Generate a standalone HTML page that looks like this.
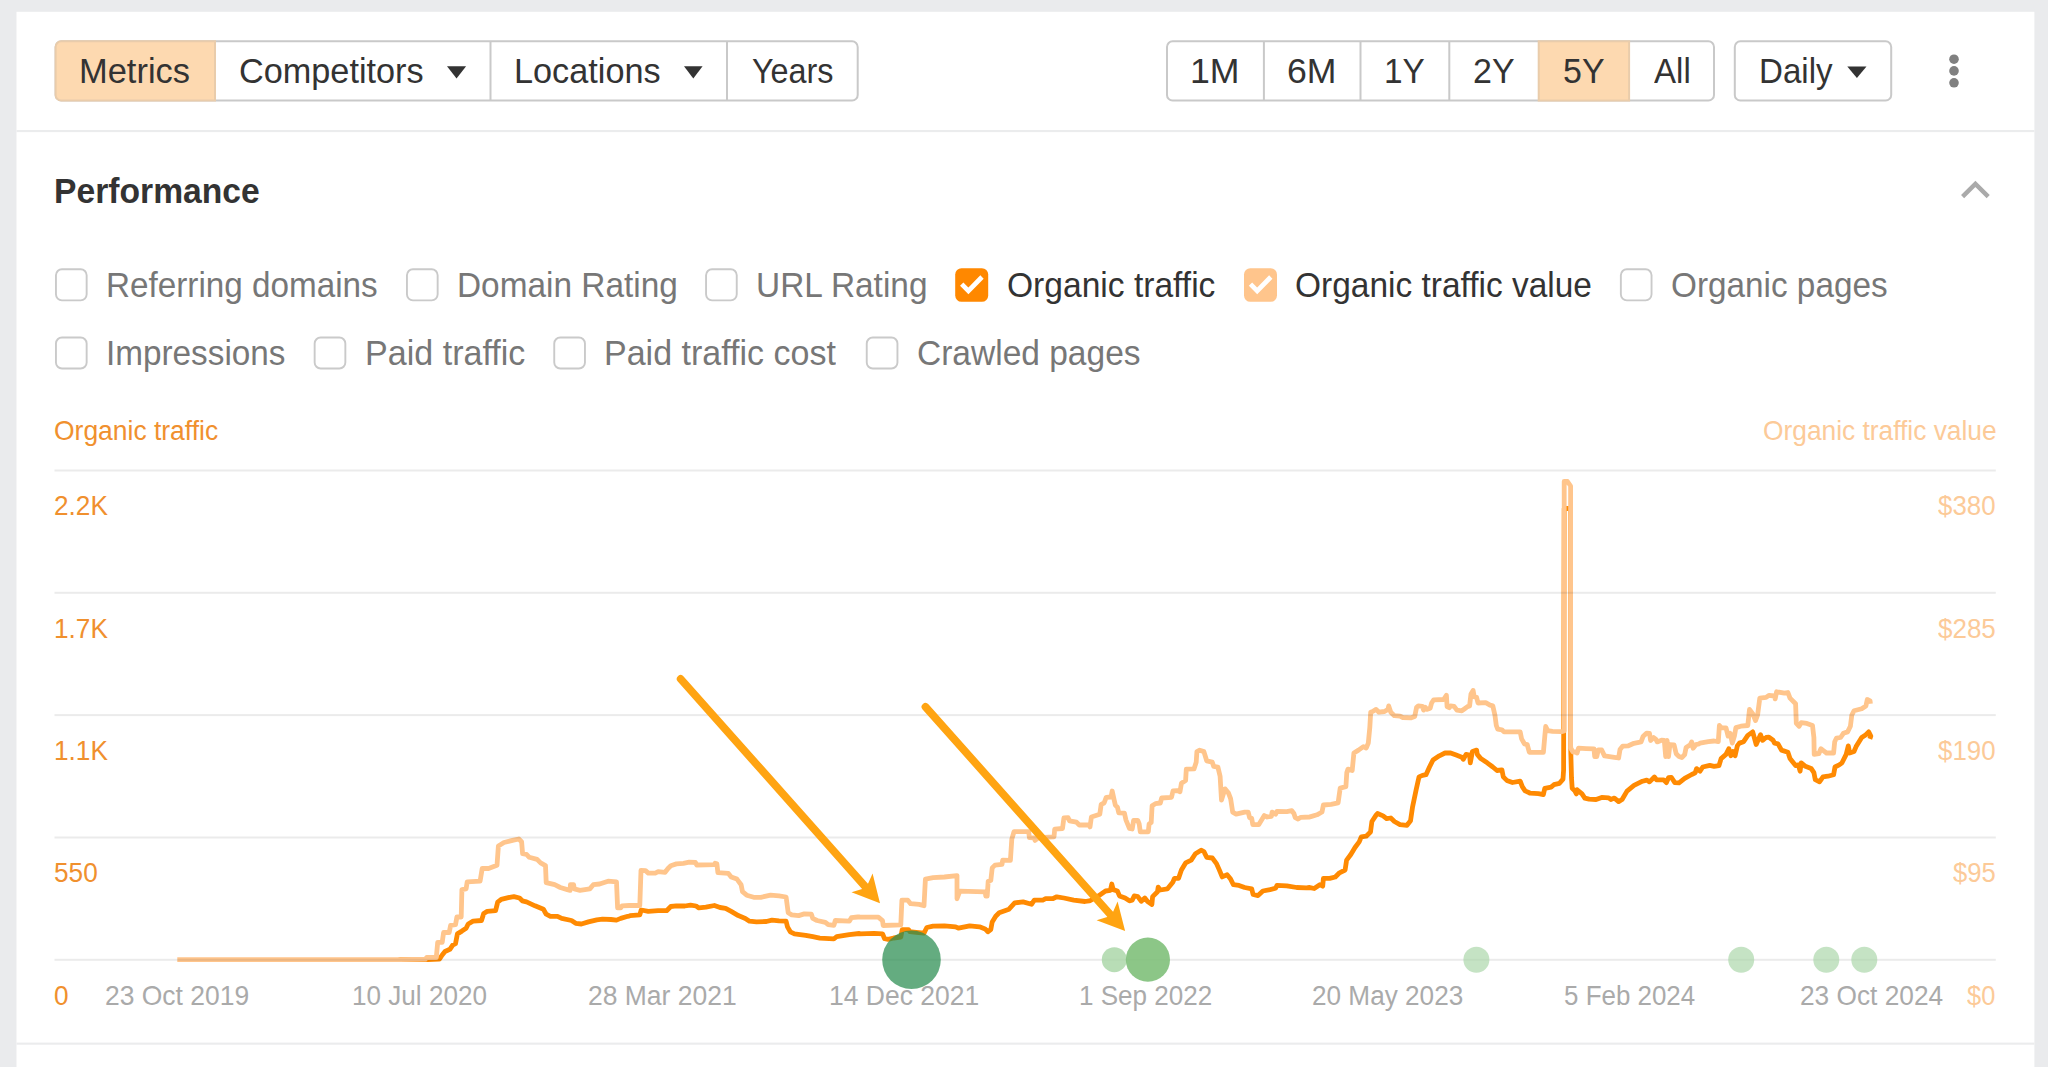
<!DOCTYPE html>
<html lang="en"><head><meta charset="utf-8"><title>Performance</title>
<style>
html,body{margin:0;padding:0;}
body{width:2048px;height:1067px;overflow:hidden;background:#eaebed;position:relative;font-family:"Liberation Sans", sans-serif;}
.t{position:absolute;white-space:nowrap;line-height:1;transform-origin:0 84.65%;}
</style></head>
<body>
<svg width="2048" height="1067" viewBox="0 0 2048 1067" style="position:absolute;left:0;top:0"><rect x="16.5" y="11.8" width="2017.9" height="1070" fill="#fff"/><rect x="16.5" y="130.0" width="2017.9" height="2.1" fill="#ebeced"/><rect x="16.5" y="1042.6" width="2017.9" height="2.1" fill="#ebeced"/><path d="M415,959.6 L400,959.6 L428.1,959.6 L439.4,959.2 L442.2,955 L445,951.5 L449.9,949.3 L452.7,945.1 L455.5,943.7 L457.4,933.9 L461.9,931.1 L466.1,928.3 L468.2,924 L473.1,921.2 L481.5,920.5 L483.7,913.5 L487.2,911.4 L495.6,910.7 L497.7,902.2 L501.2,899.4 L508.3,897.6 L513.9,896.6 L519.5,898 L522.3,900.8 L526.5,901.8 L535,905.8 L543.4,909.3 L546.2,914.2 L550.4,916.3 L557.5,916.3 L561.7,918.4 L571.5,920.5 L575.7,923.3 L581.4,924 L588.4,921.9 L596.8,919.8 L602.5,919.1 L610.9,919.5 L616.5,920.1 L620.7,918.4 L627.8,916.3 L629.2,916.2 L630,915.6 L639.8,914.9 L641.2,910 L648.3,911.4 L658.1,910.7 L666.6,910.7 L670.8,906.5 L676.4,905.8 L684.8,906 L690.5,905.1 L696.1,906 L698.9,907.9 L705.9,907.2 L714.4,905.5 L720,907.5 L725.6,908.3 L731.2,911.4 L738.3,915.6 L745.3,918.4 L749.5,921.2 L756.5,921.9 L766.4,921.5 L772,920.1 L779,920.9 L786.1,921.2 L787.5,926.9 L790.3,931.8 L794.5,933.9 L805.7,935.3 L812.8,936.7 L819.8,938.1 L833.9,938.8 L836.7,936.7 L849.3,934.6 L859.2,933.5 L860,933.8 L874.1,933.4 L882.5,933.8 L884.6,938.7 L888.1,939.4 L893.7,938 L900.8,937 L902.2,929.6 L908.5,929.6 L909.9,931.7 L916.2,932.4 L924,933.1 L926.8,927.5 L933.1,926.1 L944.4,925.8 L955.6,926.8 L958.4,928.2 L969.7,925.8 L979.5,926.8 L985.1,928.9 L987.9,931.7 L990.8,929.6 L992.2,921.9 L995.7,916.2 L999.2,912.7 L1009,909.2 L1014.7,902.9 L1023.1,901.9 L1031.5,904.3 L1034.3,900.1 L1042.8,900.1 L1045.6,898.7 L1052.6,898.7 L1056.8,896.8 L1063.9,898 L1073.7,900.1 L1085,901.5 L1089.2,900.8 L1090,900.8 L1098.4,895.9 L1105.5,891 L1110.4,890.3 L1111.8,884 L1113.2,889.6 L1117.4,891 L1119.5,895.9 L1125.1,898 L1129.4,900.8 L1132.2,900.1 L1134.3,895.9 L1137.8,896.6 L1141.3,901.3 L1144.8,898 L1147.6,901.5 L1151.9,904.4 L1152.6,896.6 L1157.5,891.7 L1158.2,887.2 L1160.3,890 L1167.3,888.9 L1173,881.9 L1174.4,878.3 L1178.6,878.3 L1181.4,869.9 L1185.6,862.9 L1191.2,860.1 L1195.4,853.7 L1201.1,850.2 L1203.9,851.6 L1206.7,857.3 L1212.3,858 L1216.5,863.6 L1219.3,869.9 L1222.2,876.9 L1227.1,874.8 L1230.6,879.1 L1233.4,884.7 L1239,885.4 L1244.7,887.5 L1251.7,888.9 L1253.1,894.5 L1258,895.6 L1262.9,891 L1270,889.6 L1275.6,888.2 L1277,885.4 L1286.8,885.8 L1296.7,887.5 L1306.5,887.8 L1309.3,887.5 L1310,887.6 L1314.2,888.5 L1319.8,884.7 L1322.7,886.2 L1323.4,878.4 L1329.7,878.4 L1335.3,877 L1339.5,872.8 L1345.1,870 L1346.6,860.1 L1350.8,854.5 L1355,847.5 L1359.2,841.9 L1361.3,836.9 L1366.2,836.2 L1370.5,832 L1371.9,821.5 L1376.1,815.1 L1377.5,813.5 L1383.1,815.9 L1386.6,818.7 L1390.8,818 L1394.4,821.5 L1400,824.7 L1407,825.3 L1410.5,820.8 L1412.6,806.7 L1416.2,789.5 L1419,776.9 L1422.5,775.4 L1426,774.7 L1429.5,767 L1433,760 L1439.3,755.8 L1445,753 L1450.6,753 L1456.2,755.1 L1461.8,757.2 L1463.3,759.3 L1466.1,754.4 L1469.6,755.1 L1470.3,762.8 L1472.4,751.5 L1474.5,750.8 L1476.6,750.1 L1477.3,754.4 L1480.8,758.6 L1487.2,762.8 L1492.8,767 L1497,770.5 L1501.9,769.8 L1503.3,776.9 L1506.8,780.4 L1512.5,782.5 L1520.2,781.1 L1522.3,786.7 L1525.1,790.9 L1529.3,792.7 L1530,793.2 L1538.4,793.6 L1543.4,794.6 L1544.8,788.3 L1551.1,787.1 L1553.9,784.7 L1559.5,783.3 L1563,779.1 L1563.6,770 L1564.2,508.5 L1570.6,508.5 L1570.6,745 L1571.5,778 L1572.2,788.3 L1575,791.1 L1576.4,793.9 L1577.1,789.7 L1582,793.9 L1584.8,798.1 L1589.1,799.2 L1596.1,799.5 L1601.7,797.4 L1608.7,797.8 L1610.8,799.5 L1614.4,798.1 L1618.6,801.6 L1622.1,799.5 L1627,791.1 L1634,785.4 L1642.5,781.2 L1646.7,780.1 L1649.5,781.9 L1654.4,777 L1656.5,779.8 L1663.6,779.8 L1666.4,782.6 L1668.5,777.7 L1671.3,777.3 L1674.8,782.6 L1679,782.9 L1684.7,778.4 L1691.7,774.5 L1695.2,772.8 L1696.6,768.6 L1700,771.2 L1702.8,767 L1709.8,765.3 L1714.1,766.3 L1719,765.6 L1721.1,758.6 L1726,754.4 L1728.8,748.7 L1730.9,755.8 L1733,751.5 L1735.1,755.8 L1737.3,745.9 L1739.4,743.1 L1743.6,741.7 L1747.8,735.4 L1752.7,731.9 L1756.2,744.5 L1760.5,734.7 L1762.6,740.3 L1766.1,737.5 L1768.9,737.2 L1773.1,740.3 L1774.5,743.1 L1778,743.8 L1781.5,750.1 L1787.9,752.2 L1790,758.6 L1795.6,765.6 L1798.4,764.9 L1800.1,771.2 L1801.2,762.8 L1805.4,766.3 L1811.1,768.4 L1813.9,772.6 L1815.3,779.7 L1819.5,781.8 L1823,776.9 L1827.9,776.2 L1833.6,774.7 L1835,767 L1839.2,764.9 L1842,762.8 L1846.2,754.4 L1848.3,745.9 L1849.7,753 L1854,751.5 L1856.1,746.6 L1861.7,737.5 L1865.9,734.7 L1868.7,731.9 L1870.8,736.1 L1869.8,738.9" fill="none" stroke="#ff8a02" stroke-width="4.8" stroke-linejoin="round" stroke-linecap="butt"/><path d="M177.3,959.6 L400,959.6 L425.3,959.2 L426.7,957.5 L436.3,957.5 L437.7,942.3 L442.2,942.3 L443.6,932.5 L449.2,932.5 L450.6,925.4 L455.5,924.7 L456.9,917 L461.2,917 L461.9,889.6 L466.1,888.9 L467.2,881.9 L480.1,881.2 L482.2,868.5 L488.6,868.5 L497,865.3 L498.4,846 L504,842.5 L512.5,840.4 L518.8,839 L521.6,841.8 L522.6,853.7 L526.5,854.4 L529.3,857.3 L537.1,859.4 L540.6,862.9 L545.5,865.7 L546.2,882.6 L554.7,884.7 L560.3,887.5 L567.3,889.6 L570.1,890.3 L570.4,884.7 L573.6,884.7 L574.3,888.9 L580,890.3 L589.8,888.9 L593.3,884.7 L599.6,884 L608.1,881.2 L616.5,881.9 L617.6,907.9 L620.7,907.9 L622.1,905.8 L629.2,905.5 L630,905.5 L639.8,905.5 L641,870.3 L645.5,870.6 L648.3,873.1 L655.3,873.1 L658.1,871.7 L665.1,872.3 L668,868.5 L670.8,865.7 L676.4,863.9 L683.4,863.3 L689.1,862.2 L695.4,862.5 L696.8,865 L714.4,864.7 L715.1,863.3 L716.9,863.9 L717.9,872.7 L728.4,873.4 L731.2,876.9 L736.9,879.1 L741.1,884.7 L742.5,891.7 L746.7,895.2 L753.7,897.3 L760.8,897.3 L770.6,895.2 L779,895.9 L786.1,897 L788.2,912.8 L791.7,914.9 L798.7,915.6 L804.3,913.9 L811.4,914.2 L812.8,918.4 L817,920.5 L825.4,922.4 L828.2,924.7 L833.9,925.4 L835.3,920.5 L849.3,921.2 L851.4,917.7 L857.8,917 L859.2,917 L860,917.1 L878.3,917.1 L882.5,920.6 L883.2,925.5 L900.8,924.8 L901.9,900.2 L907.8,900.2 L910.6,903.7 L919.1,904.4 L924,905.8 L925.4,879.1 L933.1,877.7 L944.4,877 L957,875.6 L957,898.8 L959.8,891.1 L985.1,891.8 L985.8,896 L987.2,896 L988.2,881.2 L990.8,880.5 L992.2,867.9 L995,865.1 L1002,864.4 L1002.7,860.1 L1010.4,860.4 L1011.8,839.1 L1014,831.7 L1028.7,831.7 L1029.4,837.6 L1034.3,837.9 L1035,840.5 L1038.6,837.6 L1054,836.9 L1054.7,829.2 L1062.5,828.5 L1063.9,818 L1068.1,817.7 L1069.5,820.8 L1076.5,822.2 L1079.3,825 L1089.2,825 L1090,826.9 L1091.4,817 L1099.8,814.2 L1101.2,804.4 L1104.1,803 L1106.2,797.3 L1111.1,797 L1112.2,791 L1113.9,798.7 L1115.3,805.1 L1117.4,807.2 L1118.8,812.8 L1124.4,813.1 L1125.9,819.8 L1129.4,828.3 L1132.2,829 L1133.6,820.5 L1137.8,820.5 L1139.2,824 L1140.3,831.8 L1148.3,831.8 L1149.1,824 L1151.2,822.6 L1152.1,805.8 L1155.4,803.7 L1160.3,803 L1161.7,798 L1171.5,797.3 L1173,791 L1177.2,790.6 L1180,791.7 L1181.4,783.3 L1185.6,780.5 L1186.3,769.2 L1194,768.9 L1196.2,762.2 L1196.9,751.6 L1199.7,750.2 L1203.9,751.6 L1206.7,760.8 L1212.3,762.2 L1213.7,766.4 L1217.9,767.1 L1220.1,776.2 L1221.5,800.1 L1225,788.9 L1228.5,793.1 L1230.6,798.7 L1232.7,812.1 L1236.2,814.2 L1244.7,812.1 L1248.2,812.1 L1249.6,817.7 L1251.7,818.4 L1252.8,824.7 L1258.7,824.7 L1264.3,815.6 L1267.2,817 L1271.4,816.3 L1272.1,812.1 L1275.6,814.2 L1277,811.4 L1286.8,811.7 L1291.8,810.7 L1293.9,813.5 L1295.3,817.7 L1298.1,819.1 L1300.9,817.3 L1309.3,817 L1310,816.9 L1317,814.8 L1322,812 L1323.4,805 L1331.1,804.3 L1338.1,802.9 L1340.2,788.1 L1345.9,786.7 L1346.8,772.6 L1348,769.1 L1352.2,770.5 L1353.9,753 L1358.5,750.1 L1363.4,746.6 L1366.2,748 L1368.3,743.1 L1369.8,727.6 L1370.7,712.2 L1372.6,711.5 L1376.1,709.4 L1378.9,712.2 L1384.5,711.5 L1388,709.4 L1388.7,705.9 L1390.8,712.2 L1394.4,715.7 L1400,716.1 L1402.8,717.5 L1411.2,717.8 L1414.7,716.4 L1416.6,707.3 L1418.3,705.9 L1422.5,706.3 L1423.6,710.1 L1425.3,707.3 L1426.7,709.4 L1430.2,708.2 L1431.6,703 L1433.7,699.8 L1443.6,699.5 L1446.4,695.3 L1447.1,706.6 L1449.2,707.7 L1450.6,705.9 L1454.1,706.3 L1456.9,710.1 L1461.8,710.8 L1464.7,708.7 L1467.5,706.6 L1469.6,705.9 L1471,693.9 L1473.1,690.4 L1474.2,696.7 L1476.6,697.4 L1478,703 L1485.7,702.6 L1490,705.1 L1492.8,705.9 L1494.9,715 L1496.3,725.5 L1497.7,729.1 L1501.9,729.8 L1504,731.9 L1520.2,731.9 L1521.6,738.9 L1524.4,743.8 L1527.2,744.5 L1529.3,752.2 L1529.3,752.2 L1530,752.4 L1543.4,752.4 L1544.8,736.2 L1545.7,726.4 L1547.6,730.6 L1552.5,731.3 L1561.6,731.7 L1564.2,731 L1564.2,481.5 L1567.5,481.5 L1570.6,486 L1570.6,748 L1573,752 L1577,752 L1577.1,753.1 L1578.5,748.2 L1586.2,748.6 L1594,748.9 L1594.7,756.6 L1596.8,756.6 L1598.2,750 L1601.7,750 L1604.5,755.9 L1614.4,757.3 L1618.6,758 L1620,749.6 L1622.8,746.1 L1628.4,745.8 L1634,743.3 L1641.1,741.9 L1643.2,736.2 L1646.7,733.1 L1649.5,733.4 L1650.6,740.5 L1653.7,737.6 L1655.8,739.1 L1657.2,741.9 L1661.5,740.2 L1664.3,740.5 L1665.7,756.6 L1667.1,740.5 L1668.5,756.6 L1669.9,744.7 L1674.1,745 L1676.2,753.8 L1679,756.6 L1681.8,757.6 L1684.7,754.5 L1686.1,747.5 L1690.3,744.7 L1691.7,741.9 L1693.1,748.2 L1695.9,744.7 L1698.7,744 L1700,743.1 L1708.4,741.7 L1714.1,741 L1718.3,741.7 L1719.4,725.5 L1721.1,727.6 L1726,727.9 L1728.1,736.1 L1730.2,733.3 L1732.3,743.1 L1734.4,736.1 L1735.9,727.6 L1740.8,726.2 L1747.8,725.5 L1749.5,709.4 L1752.7,713.6 L1755.5,720.6 L1757.6,715 L1759.8,698.1 L1766.1,697.4 L1768.9,695.3 L1774.5,696 L1775.2,698.8 L1776.6,691.8 L1784.4,693.2 L1787.9,692.5 L1790,698.1 L1795.6,703.7 L1796.3,723.4 L1799.1,726.2 L1801.2,722.7 L1806.9,723.4 L1812.5,725.5 L1813.9,737.5 L1814.2,754.4 L1818.8,753.7 L1820.9,748.7 L1823.7,750.8 L1826.5,753 L1833.6,753 L1834.7,741.7 L1836.4,738.2 L1840.6,737.5 L1843.4,733.3 L1847.6,731.9 L1850.4,726.2 L1851.8,715 L1854,710.8 L1861.7,708.7 L1865.9,705.9 L1867.3,699.5 L1870.1,700.9 L1870.4,703.7" fill="none" stroke="#ffc58c" stroke-width="4.8" stroke-linejoin="round" stroke-linecap="butt"/><rect x="54.5" y="469.5" width="1941.3" height="2" fill="#000" fill-opacity="0.08"/><rect x="54.5" y="591.8" width="1941.3" height="2" fill="#000" fill-opacity="0.08"/><rect x="54.5" y="714.1" width="1941.3" height="2" fill="#000" fill-opacity="0.08"/><rect x="54.5" y="836.5" width="1941.3" height="2" fill="#000" fill-opacity="0.08"/><rect x="54.5" y="958.8" width="1941.3" height="2" fill="#000" fill-opacity="0.08"/><rect x="55.60" y="41.3" width="802.10" height="59.25" rx="5.6" ry="5.6" fill="#fff" stroke="#c9c9c9" stroke-width="2"/><line x1="490.5" y1="41.3" x2="490.5" y2="100.55" stroke="#c9c9c9" stroke-width="2"/><line x1="727" y1="41.3" x2="727" y2="100.55" stroke="#c9c9c9" stroke-width="2"/><rect x="1167.00" y="41.3" width="547.00" height="59.25" rx="5.6" ry="5.6" fill="#fff" stroke="#c9c9c9" stroke-width="2"/><line x1="1263.9" y1="41.3" x2="1263.9" y2="100.55" stroke="#c9c9c9" stroke-width="2"/><line x1="1360.5" y1="41.3" x2="1360.5" y2="100.55" stroke="#c9c9c9" stroke-width="2"/><line x1="1449.3" y1="41.3" x2="1449.3" y2="100.55" stroke="#c9c9c9" stroke-width="2"/><rect x="1734.80" y="41.3" width="156.40" height="59.25" rx="5.6" ry="5.6" fill="#fff" stroke="#c9c9c9" stroke-width="2"/><path d="M215,41.3 L61.2,41.3 A5.6,5.6 0 0 0 55.6,46.9 L55.6,94.95 A5.6,5.6 0 0 0 61.2,100.55 L215,100.55 Z" fill="#fdd9b0" stroke="#e9ccab" stroke-width="2"/><rect x="1538.7" y="41.3" width="90.40" height="59.25" fill="#fdd9b0" stroke="#e9ccab" stroke-width="2"/><rect x="55.95" y="269.25" width="30.7" height="31.1" rx="6" ry="6" fill="#fff" stroke="#cacaca" stroke-width="1.9"/><rect x="406.95" y="269.25" width="30.7" height="31.1" rx="6" ry="6" fill="#fff" stroke="#cacaca" stroke-width="1.9"/><rect x="706.05" y="269.25" width="30.7" height="31.1" rx="6" ry="6" fill="#fff" stroke="#cacaca" stroke-width="1.9"/><rect x="955.20" y="268.20" width="33" height="33.6" rx="6.3" ry="6.3" fill="#ff8800"/><path d="M961.70,284.10 L968.40,290.80 L982.00,277.00" fill="none" stroke="#fff" stroke-width="4.7" stroke-linejoin="miter" stroke-linecap="butt"/><rect x="1244.00" y="268.20" width="33" height="33.6" rx="6.3" ry="6.3" fill="#ffc58c"/><path d="M1250.50,284.10 L1257.20,290.80 L1270.80,277.00" fill="none" stroke="#fff" stroke-width="4.7" stroke-linejoin="miter" stroke-linecap="butt"/><rect x="1620.85" y="269.25" width="30.7" height="31.1" rx="6" ry="6" fill="#fff" stroke="#cacaca" stroke-width="1.9"/><rect x="55.95" y="337.45" width="30.7" height="31.1" rx="6" ry="6" fill="#fff" stroke="#cacaca" stroke-width="1.9"/><rect x="314.65" y="337.45" width="30.7" height="31.1" rx="6" ry="6" fill="#fff" stroke="#cacaca" stroke-width="1.9"/><rect x="554.25" y="337.45" width="30.7" height="31.1" rx="6" ry="6" fill="#fff" stroke="#cacaca" stroke-width="1.9"/><rect x="866.75" y="337.45" width="30.7" height="31.1" rx="6" ry="6" fill="#fff" stroke="#cacaca" stroke-width="1.9"/><path d="M447,66.3 L466.1,66.3 L456.55,78.4 Z" fill="#333"/><path d="M684,66.3 L702.6,66.3 L693.3,78.4 Z" fill="#333"/><path d="M1847.3,66.4 L1866.5,66.4 L1856.9,77.9 Z" fill="#333"/><circle cx="1954" cy="59.2" r="4.8" fill="#808080"/><circle cx="1954" cy="70.9" r="4.8" fill="#808080"/><circle cx="1954" cy="82.8" r="4.8" fill="#808080"/><path d="M1962.6,196.6 L1975.4,183.9 L1988.2,196.6" fill="none" stroke="#aaaaaa" stroke-width="4.4" stroke-linejoin="miter"/></svg>
<span class="t" id="metrics" style="left:79.37px;top:55.27px;font-size:33px;color:#333;transform:scale(1.0438,1.035);">Metrics</span>
<span class="t" id="competitors" style="left:239.46px;top:55.27px;font-size:33px;color:#333;transform:scale(1.0380,1.035);">Competitors</span>
<span class="t" id="locations" style="left:514.00px;top:55.27px;font-size:33px;color:#333;transform:scale(1.0381,1.035);">Locations</span>
<span class="t" id="years" style="left:751.95px;top:55.27px;font-size:33px;color:#333;transform:scale(0.9801,1.035);">Years</span>
<span class="t" id="b1m" style="left:1189.99px;top:55.27px;font-size:33px;color:#333;transform:scale(1.0810,1.035);">1M</span>
<span class="t" id="b6m" style="left:1287.39px;top:55.27px;font-size:33px;color:#333;transform:scale(1.0796,1.035);">6M</span>
<span class="t" id="b1y" style="left:1384.22px;top:55.27px;font-size:33px;color:#333;transform:scale(1.0106,1.035);">1Y</span>
<span class="t" id="b2y" style="left:1473.26px;top:55.27px;font-size:33px;color:#333;transform:scale(1.0299,1.035);">2Y</span>
<span class="t" id="b5y" style="left:1563.35px;top:55.27px;font-size:33px;color:#333;transform:scale(1.0296,1.035);">5Y</span>
<span class="t" id="ball" style="left:1653.74px;top:55.27px;font-size:33px;color:#333;transform:scale(1.0022,1.035);">All</span>
<span class="t" id="daily" style="left:1759.00px;top:55.27px;font-size:33px;color:#333;transform:scale(1.0034,1.035);">Daily</span>
<span class="t" id="perf" style="left:53.53px;top:175.47px;font-size:33px;color:#333;font-weight:700;transform:scale(1.0199,1.035);">Performance</span>
<span class="t" id="c1" style="left:105.78px;top:269.07px;font-size:33px;color:#777;transform:scale(1.0078,1.035);">Referring domains</span>
<span class="t" id="c2" style="left:457.20px;top:269.07px;font-size:33px;color:#777;transform:scale(1.0118,1.035);">Domain Rating</span>
<span class="t" id="c3" style="left:756.40px;top:269.07px;font-size:33px;color:#777;transform:scale(1.0125,1.035);">URL Rating</span>
<span class="t" id="c4" style="left:1006.87px;top:269.07px;font-size:33px;color:#333;transform:scale(1.0175,1.035);">Organic traffic</span>
<span class="t" id="c5" style="left:1295.18px;top:269.07px;font-size:33px;color:#333;transform:scale(1.0140,1.035);">Organic traffic value</span>
<span class="t" id="c6" style="left:1671.11px;top:269.07px;font-size:33px;color:#777;transform:scale(1.0092,1.035);">Organic pages</span>
<span class="t" id="d1" style="left:105.78px;top:337.17px;font-size:33px;color:#777;transform:scale(1.0088,1.035);">Impressions</span>
<span class="t" id="d2" style="left:364.78px;top:337.17px;font-size:33px;color:#777;transform:scale(1.0325,1.035);">Paid traffic</span>
<span class="t" id="d3" style="left:604.23px;top:337.17px;font-size:33px;color:#777;transform:scale(1.0306,1.035);">Paid traffic cost</span>
<span class="t" id="d4" style="left:917.18px;top:337.17px;font-size:33px;color:#777;transform:scale(1.0155,1.035);">Crawled pages</span>
<span class="t" id="axl" style="left:53.77px;top:417.59px;font-size:26px;color:#f0902e;transform:scale(1.0172,1.035);">Organic traffic</span>
<span class="t" id="axr" style="left:1763.36px;top:417.59px;font-size:26px;color:#fcca98;transform:scale(1.0124,1.035);">Organic traffic value</span>
<span class="t" id="yl0" style="left:53.71px;top:493.19px;font-size:26px;color:#f0902e;transform:scale(1.0083,1.035);">2.2K</span>
<span class="t" id="yr0" style="left:1937.76px;top:493.19px;font-size:26px;color:#fcca98;transform:scale(0.9946,1.035);">$380</span>
<span class="t" id="yl1" style="left:53.71px;top:615.59px;font-size:26px;color:#f0902e;transform:scale(1.0083,1.035);">1.7K</span>
<span class="t" id="yr1" style="left:1937.76px;top:615.59px;font-size:26px;color:#fcca98;transform:scale(0.9997,1.035);">$285</span>
<span class="t" id="yl2" style="left:53.71px;top:737.89px;font-size:26px;color:#f0902e;transform:scale(1.0083,1.035);">1.1K</span>
<span class="t" id="yr2" style="left:1937.76px;top:737.89px;font-size:26px;color:#fcca98;transform:scale(0.9946,1.035);">$190</span>
<span class="t" id="yl3" style="left:53.71px;top:860.29px;font-size:26px;color:#f0902e;transform:scale(1.0083,1.035);">550</span>
<span class="t" id="yr3" style="left:1952.50px;top:860.29px;font-size:26px;color:#fcca98;transform:scale(0.9866,1.035);">$95</span>
<span class="t" id="yl4" style="left:53.71px;top:982.59px;font-size:26px;color:#f0902e;transform:scale(1.0083,1.035);">0</span>
<span class="t" id="yr4" style="left:1967.24px;top:982.59px;font-size:26px;color:#fcca98;transform:scale(0.9784,1.035);">$0</span>
<span class="t" id="x0" style="left:105.13px;top:982.59px;font-size:26px;color:#aaa;transform:scale(1.0175,1.035);">23 Oct 2019</span>
<span class="t" id="x1" style="left:352.27px;top:982.59px;font-size:26px;color:#aaa;transform:scale(1.0038,1.035);">10 Jul 2020</span>
<span class="t" id="x2" style="left:587.82px;top:982.59px;font-size:26px;color:#aaa;transform:scale(1.0181,1.035);">28 Mar 2021</span>
<span class="t" id="x3" style="left:829.46px;top:982.59px;font-size:26px;color:#aaa;transform:scale(1.0186,1.035);">14 Dec 2021</span>
<span class="t" id="x4" style="left:1078.74px;top:982.59px;font-size:26px;color:#aaa;transform:scale(1.0023,1.035);">1 Sep 2022</span>
<span class="t" id="x5" style="left:1311.56px;top:982.59px;font-size:26px;color:#aaa;transform:scale(1.0062,1.035);">20 May 2023</span>
<span class="t" id="x6" style="left:1564.25px;top:982.59px;font-size:26px;color:#aaa;transform:scale(0.9975,1.035);">5 Feb 2024</span>
<span class="t" id="x7" style="left:1799.83px;top:982.59px;font-size:26px;color:#aaa;transform:scale(1.0103,1.035);">23 Oct 2024</span>
<svg width="2048" height="1067" viewBox="0 0 2048 1067" style="position:absolute;left:0;top:0"><circle cx="911.5" cy="959.7" r="29.3" fill="#2b8d51" fill-opacity="0.73"/><circle cx="1114.3" cy="959.7" r="12.5" fill="#a6d4a4" fill-opacity="0.8"/><circle cx="1147.9" cy="959.7" r="22.1" fill="#7fc07a" fill-opacity="0.9"/><circle cx="1476.4" cy="959.7" r="13" fill="#a6d4a4" fill-opacity="0.65"/><circle cx="1741.2" cy="959.7" r="13" fill="#a6d4a4" fill-opacity="0.65"/><circle cx="1826.3" cy="959.7" r="13" fill="#a6d4a4" fill-opacity="0.65"/><circle cx="1864.3" cy="959.7" r="13" fill="#a6d4a4" fill-opacity="0.65"/><line x1="680.7" y1="679" x2="865.7" y2="887.1" stroke="#ffa412" stroke-width="7.8" stroke-linecap="round"/><path d="M880.0,903.2 L851.5,892.3 L862.1,889.0 L868.0,883.8 L872.6,873.6 Z" fill="#ffa412"/><line x1="925.5" y1="706.9" x2="1110.8" y2="915.0" stroke="#ffa412" stroke-width="7.8" stroke-linecap="round"/><path d="M1125.1,931.1 L1096.6,920.3 L1107.2,916.9 L1113.1,911.7 L1117.6,901.5 Z" fill="#ffa412"/></svg>
</body></html>
